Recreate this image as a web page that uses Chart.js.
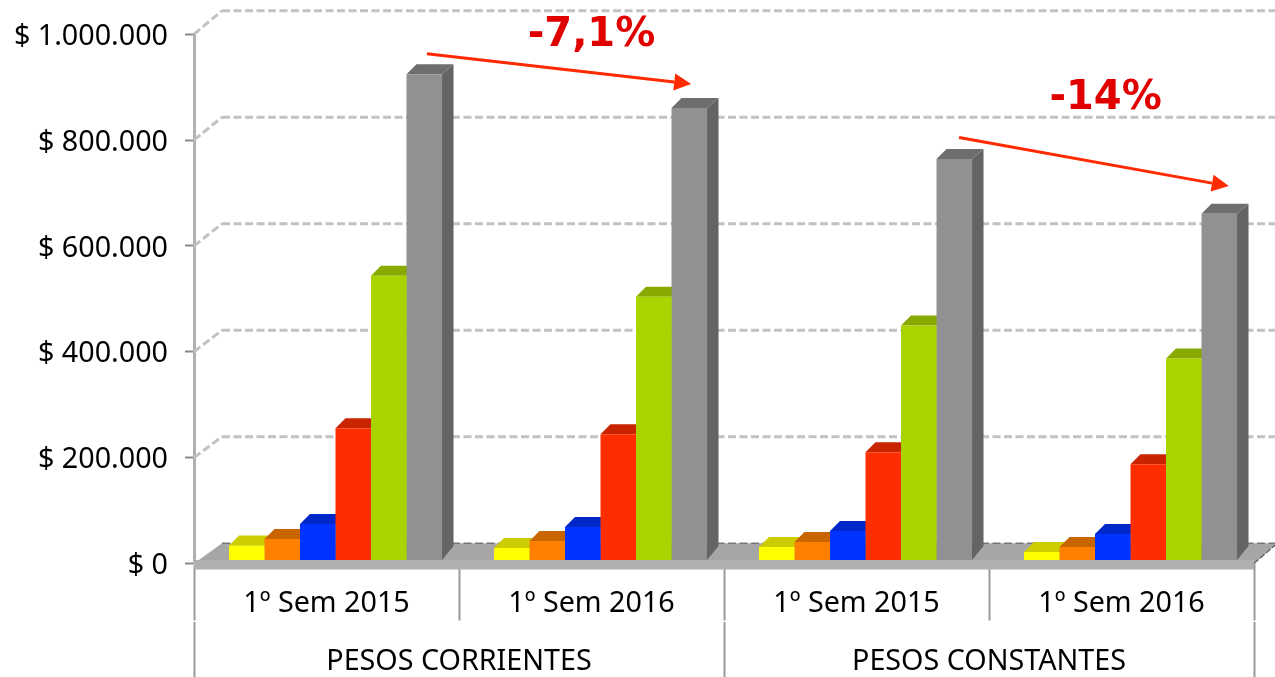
<!DOCTYPE html>
<html><head><meta charset="utf-8">
<script src="https://cdn.jsdelivr.net/npm/chart.js@4"></script>
<style>html,body{margin:0;padding:0;background:#fff;overflow:hidden}canvas{display:block;filter:blur(0.5px)}</style>
</head><body><canvas id="c" width="1275" height="677"></canvas>
<script>
const categories = ['1º Sem 2015','1º Sem 2016','1º Sem 2015','1º Sem 2016'];
const groups = ['PESOS CORRIENTES','PESOS CONSTANTES'];
const yTicks = [0,200000,400000,600000,800000,1000000];
const serieA = [33900,29200,31100,21700];
const serieB = [46200,42400,40500,31100];
const serieC = [74500,68800,61300,55600];
const serieD = [255400,244100,210200,187600];
const serieE = [543800,504200,449600,387400];
const serieF = [924600,860500,764400,660700];
const fronts = ['#FFFF00','#FF8000','#0033FF','#FF2E00','#AAD400','#919191'];
const tops   = ['#CCCC00','#C96500','#0028C8','#C82400','#88A900','#6E6E6E'];
const sides  = ['#AAAA00','#A85400','#0020A0','#A01D00','#6E8800','#646464'];
const changeLabels = ['-7,1%','-14%'];
const labelAt = [[1.0,997500],[2.94,878500]];
const arrows = [[0.379,963000,1.376,906000],[2.387,805000,3.405,713000]];

const font = '"Noto Sans"';
const SHIFT = 9, DX = 11.5, DY = 10, WALL_X = 28;
const backY = y => y - 23.5 + (y - 33) * 0.006;

const scene = {
  id:'scene',
  beforeDraw(chart){
    const y = chart.scales.y;
    y.getLabelItems(chart.chartArea).forEach(i=>{ i.options.translation[1] += 2.5; });
  },
  beforeDatasetsDraw(chart){
    const {ctx, scales:{y}, chartArea:a, width} = chart;
    const zero = y.getPixelForValue(0), fb = backY(zero);
    ctx.save();
    // floor
    ctx.fillStyle = '#A6A6A6';
    ctx.beginPath();
    ctx.moveTo(a.left,zero); ctx.lineTo(a.left+WALL_X,fb); ctx.lineTo(width,fb);
    ctx.lineTo(width,fb+2); ctx.lineTo(a.right,zero); ctx.closePath(); ctx.fill();
    // back-wall gridlines and their diagonals
    ctx.setLineDash([8,3.5]);
    y.ticks.forEach(t=>{
      const p = y.getPixelForValue(t.value), b = backY(p);
      ctx.strokeStyle = t.value===0 ? '#777' : '#C2C2C2';
      ctx.lineWidth = t.value===0 ? 1.5 : 3;
      ctx.beginPath(); ctx.moveTo(a.left+WALL_X,b); ctx.lineTo(width,b); ctx.stroke();
      if(t.value!==0){ ctx.beginPath(); ctx.moveTo(a.left,p); ctx.lineTo(a.left+WALL_X,b); ctx.stroke(); }
    });
    ctx.setLineDash([6,2]); ctx.strokeStyle='#666'; ctx.lineWidth=1.5;
    ctx.beginPath(); ctx.moveTo(a.right,zero); ctx.lineTo(width,fb+2); ctx.stroke();
    ctx.restore();
    // everything belonging to bars is shifted onto the chart's front plane
    ctx.save();
    ctx.translate(SHIFT,0);
    // extruded tops and sides, back to front
    chart.data.datasets.forEach((ds,di)=>{
      chart.getDatasetMeta(di).data.forEach(bar=>{
        const l = bar.x-bar.width/2, r = bar.x+bar.width/2, t = bar.y, bot = zero-3.5;
        ctx.fillStyle = sides[di];
        ctx.beginPath(); ctx.moveTo(r,t); ctx.lineTo(r+DX,t-DY); ctx.lineTo(r+DX,bot-14); ctx.lineTo(r,bot); ctx.closePath(); ctx.fill();
        ctx.fillStyle = tops[di];
        ctx.beginPath(); ctx.moveTo(l,t); ctx.lineTo(l+DX-1.5,t-DY); ctx.lineTo(r+DX,t-DY); ctx.lineTo(r,t); ctx.closePath(); ctx.fill();
      });
    });
  },
  afterDatasetsDraw(chart){
    const {ctx, scales:{x,y}, chartArea:a} = chart;
    ctx.restore();
    const zero = y.getPixelForValue(0);
    // front edge of the floor
    ctx.fillStyle = '#B0B0B0';
    ctx.fillRect(a.left, zero-3.5, a.right-a.left, 9.5);
    // change arrows and labels
    const px = (i,v)=>[x.getPixelForValue(i), y.getPixelForValue(v)];
    ctx.save();
    ctx.strokeStyle = ctx.fillStyle = '#FF2A00';
    ctx.lineWidth = 3;
    arrows.forEach(([i0,v0,i1,v1])=>{
      const [x0,y0] = px(i0,v0), [x1,y1] = px(i1,v1);
      const ang = Math.atan2(y1-y0,x1-x0), L = 17, W = 8.5;
      const bx = x1-L*Math.cos(ang), by = y1-L*Math.sin(ang);
      ctx.beginPath(); ctx.moveTo(x0,y0); ctx.lineTo(bx,by); ctx.stroke();
      ctx.beginPath(); ctx.moveTo(x1,y1);
      ctx.lineTo(bx+W*Math.sin(ang),by-W*Math.cos(ang));
      ctx.lineTo(bx-W*Math.sin(ang),by+W*Math.cos(ang)); ctx.closePath(); ctx.fill();
    });
    ctx.fillStyle = '#E00000';
    ctx.font = '700 40px "DejaVu Sans"';
    ctx.textAlign = 'center'; ctx.textBaseline = 'middle';
    changeLabels.forEach((s,k)=>{ const [tx,ty] = px(labelAt[k][0],labelAt[k][1]); ctx.fillText(s,tx,ty); });
    ctx.restore();
  }
};

const series = [serieA,serieB,serieC,serieD,serieE,serieF];
new Chart(document.getElementById('c'),{
  type:'bar',
  data:{
    labels:categories,
    datasets:series.map((d,i)=>({data:d,backgroundColor:fronts[i],borderWidth:0,
      categoryPercentage:0.804,barPercentage:1}))
  },
  plugins:[scene],
  options:{
    responsive:false,animation:false,
    layout:{padding:{left:0,right:21,top:32.5,bottom:0}},
    plugins:{legend:{display:false},tooltip:{enabled:false}},
    scales:{
      y:{min:0,max:1000000,
        afterFit(s){s.width=194;},
        afterBuildTicks(s){s.ticks=yTicks.map(v=>({value:v}));},
        border:{color:'#B0B0B0',width:3},
        grid:{drawOnChartArea:false,drawTicks:true,tickLength:9,tickColor:'#8A8A8A',tickWidth:2},
        ticks:{padding:17,color:'#000',font:{family:font,size:28.7},
          callback:v=>'$ '+String(v).replace(/\B(?=(\d{3})+$)/g,'.')}
      },
      x:{position:'bottom',z:1,
        afterFit(s){s.height=58.5;},
        border:{display:false},
        grid:{offset:true,drawOnChartArea:false,drawTicks:true,tickLength:57,tickColor:'#999',tickWidth:2},
        ticks:{padding:-34,color:'#000',font:{family:font,size:28.7},maxRotation:0,autoSkip:false}
      },
      x2:{type:'category',position:'bottom',labels:groups,offset:true,z:1,
        afterFit(s){s.height=55;},
        border:{display:false},
        grid:{offset:true,drawOnChartArea:false,drawTicks:true,tickLength:55,tickColor:'#999',tickWidth:2},
        ticks:{padding:-32,color:'#000',font:{family:font,size:28.7},maxRotation:0,autoSkip:false}
      }
    }
  }
});
</script></body></html>
